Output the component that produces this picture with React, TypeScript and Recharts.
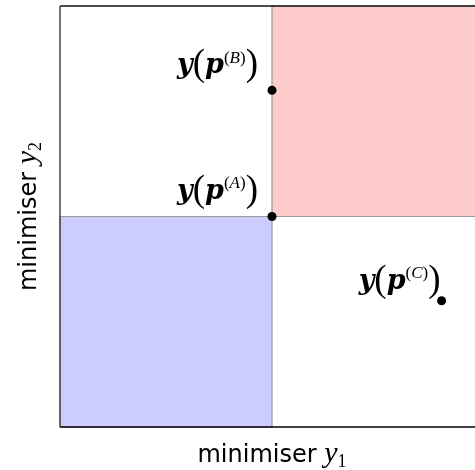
import { ComposedChart, ReferenceArea, ReferenceLine, Scatter, XAxis, YAxis } from "recharts";

// the three evaluated points y(p) in objective space
const pointNames = ["A", "B", "C"];
const pointY1 = [1, 1, 1.8];
const pointY2 = [1, 1.6, 0.6];

// shaded regions: dominated (blue) and dominating (red)
const blueBox = { x1: 0, x2: 1, y1: 0, y2: 1 };
const redBox = { x1: 1, x2: 2, y1: 1, y2: 2 };

const xTicks = [0];
const yTicks = [0, 2];

const points = pointNames.map((name, i) => ({ name, y1: pointY1[i], y2: pointY2[i] }));

// label placement relative to the dot (style only)
const labelOffset: { [key: string]: [number, number] } = {
  A: [-14, -18],
  B: [-14, -17],
  C: [-1, -12],
};

const serif = "'Liberation Serif', 'DejaVu Serif', serif";
const boldSerif = "'DejaVu Serif', serif";
const sans = "'DejaVu Sans', sans-serif";

const PointShape = (props: any) => {
  const { cx, cy, payload } = props;
  const [dx, dy] = labelOffset[payload.name] || [0, 0];
  return (
    <g>
      <circle cx={cx} cy={cy} r={4.5} fill="#000" />
      <text x={cx + dx} y={cy + dy} textAnchor="end" fill="#000" fontFamily={serif}>
        <tspan fontFamily={boldSerif} fontSize={27} fontStyle="italic" fontWeight="bold">y</tspan>
        <tspan fontSize={37} dy={2}>(</tspan>
        <tspan fontFamily={boldSerif} fontSize={27} fontStyle="italic" fontWeight="bold" dy={-2}>p</tspan>
        <tspan fontSize={17} dy={-10.5}>(</tspan>
        <tspan fontSize={17} fontStyle="italic">{payload.name}</tspan>
        <tspan fontSize={17}>)</tspan>
        <tspan fontSize={37} dy={12.5}>)</tspan>
      </text>
    </g>
  );
};

const XLabel = (props: any) => {
  const vb = props.viewBox;
  return (
    <text x={vb.x + vb.width / 2} y={vb.y + 35} textAnchor="middle" fill="#000">
      <tspan fontFamily={sans} fontSize={24}>minimiser </tspan>
      <tspan fontFamily={serif} fontStyle="italic" fontSize={30}>y</tspan>
      <tspan fontFamily={serif} fontSize={18} dy={5}>1</tspan>
    </text>
  );
};

const YLabel = (props: any) => {
  const vb = props.viewBox;
  const x = vb.x + 36;
  const y = vb.y + vb.height / 2;
  return (
    <text x={x} y={y} textAnchor="middle" fill="#000" transform={`rotate(-90, ${x}, ${y})`}>
      <tspan fontFamily={sans} fontSize={24}>minimiser </tspan>
      <tspan fontFamily={serif} fontStyle="italic" fontSize={30}>y</tspan>
      <tspan fontFamily={serif} fontSize={18} dy={5}>2</tspan>
    </text>
  );
};

const App = () => {
  return (
    <div style={{ position: "fixed", top: 0, left: 0, width: 475, height: 470, overflow: "hidden" }}>
      <ComposedChart
        width={490}
        height={470}
        data={points}
        margin={{ top: 6, right: 6, bottom: 0, left: 0 }}
      >
        <XAxis
          type="number"
          dataKey="y1"
          domain={[0, 2]}
          ticks={xTicks}
          tick={false}
          tickSize={4}
          height={43}
          axisLine={{ stroke: "#000", strokeWidth: 1.5 }}
          tickLine={{ stroke: "#000" }}
          label={{ content: XLabel }}
        />
        <YAxis
          type="number"
          dataKey="y2"
          domain={[0, 2]}
          ticks={yTicks}
          tick={false}
          tickSize={3}
          width={60}
          axisLine={{ stroke: "#444", strokeWidth: 1.5 }}
          tickLine={{ stroke: "#000" }}
          label={{ content: YLabel }}
        />
        <ReferenceArea {...blueBox} fill="#ccccff" fillOpacity={1} stroke="#9a9a9a" strokeWidth={1.2} />
        <ReferenceArea {...redBox} fill="#ffcccc" fillOpacity={1} stroke="#9a9a9a" strokeWidth={1.2} />
        <ReferenceLine y={2} stroke="#111" strokeWidth={1.5} />
        <Scatter dataKey="y2" fill="#000" shape={PointShape} isAnimationActive={false} />
      </ComposedChart>
    </div>
  );
};

export default App;
